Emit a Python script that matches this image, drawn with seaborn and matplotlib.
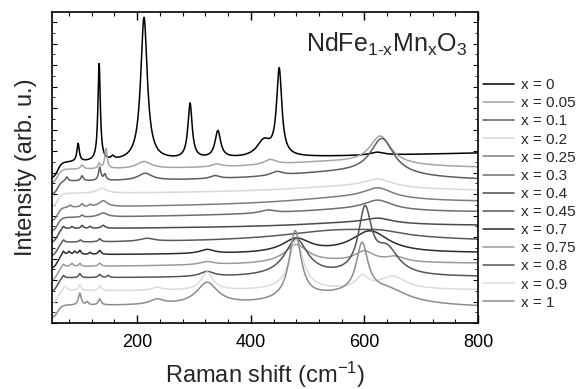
import numpy as np
import pandas as pd
import matplotlib
matplotlib.use("Agg")
import matplotlib.pyplot as plt
import seaborn as sns
from matplotlib.ticker import MultipleLocator

# ---------------- data ----------------
labels = ["x = 0", "x = 0.05", "x = 0.1", "x = 0.2", "x = 0.25", "x = 0.3", "x = 0.4",
          "x = 0.45", "x = 0.7", "x = 0.75", "x = 0.8", "x = 0.9", "x = 1"]

# baseline level (offset, arb. u.) at the low / high ends of the range
base_low = [160, 153, 141, 129, 115, 105, 94, 80, 68, 56, 45, 32, 17]
base_high = [170, 154, 141, 131, 120, 110, 97, 81, 70, 59, 46, 33, 15]
# drop of the signal below the notch-filter cut-off
edge_drop = [16, 14, 14, 14, 14, 14, 14, 14, 14, 14, 14, 14, 13]

# Raman bands: (position cm-1, height, FWHM cm-1)
bands_x0 = [(96, 18, 5), (133, 97, 5), (157, 3, 6), (212, 143, 14), (293, 55, 9),
            (342, 27, 12), (423, 16, 30), (450, 86, 11), (622, 3, 30)]
bands_x005 = [(103, 4, 6), (133, 5, 5), (145, 20, 5), (212, 7, 30), (340, 3, 20),
              (434, 5, 25), (540, 7, 300), (628, 28, 45)]
bands_x01 = [(76, 4, 5), (103, 5, 5), (134, 13, 5), (143, 6, 5), (214, 7, 30),
             (337, 3, 20), (446, 4, 25), (560, 9, 320), (631, 36, 50)]
bands_x02 = [(138, 5, 20), (580, 6, 300), (624, 8, 60)]
bands_x025 = [(82, 2, 5), (103, 3, 5), (117, 2, 5), (140, 6, 18), (580, 7, 280), (624, 10, 60)]
bands_x03 = [(103, 2, 5), (140, 4, 18), (430, 3, 30), (580, 5, 280), (624, 9.5, 60)]
bands_x04 = [(70, 3, 5), (85, 2, 5), (103, 3, 5), (117, 2, 5), (140, 3, 8),
             (580, 4, 250), (624, 5, 60)]
bands_x045 = [(70, 3, 5), (100, 2, 5), (134, 3, 6), (217, 3, 30), (560, 12, 260), (630, 3, 80)]
bands_x07 = [(70, 4, 5), (80, 3, 5), (90, 3, 5), (99, 4, 5), (117, 2, 5), (134, 4, 6),
             (323, 4, 30), (480, 14, 60), (610, 22, 80)]
bands_x075 = [(70, 3, 5), (85, 3, 5), (99, 3, 5), (134, 3, 6), (323, 3, 30),
              (480, 18, 50), (560, 3, 300), (600, 10, 40), (655, 5, 40)]
bands_x08 = [(70, 3, 5), (99, 4, 5), (134, 3, 6), (149, 2, 5), (323, 5, 30),
             (480, 37, 50), (601, 63, 28), (640, 25, 50)]
bands_x09 = [(73, 5, 8), (99, 6, 6), (134, 5, 6), (235, 3, 20), (323, 18, 25),
             (480, 50, 30), (596, 12, 25), (650, 13, 60)]
bands_x1 = [(99, 12, 6), (112, 3, 5), (134, 6, 6), (235, 5, 30), (323, 22, 45),
            (478, 68, 25), (550, 10, 200), (596, 50, 25), (640, 12, 90)]
bands = [bands_x0, bands_x005, bands_x01, bands_x02, bands_x025, bands_x03, bands_x04,
         bands_x045, bands_x07, bands_x075, bands_x08, bands_x09, bands_x1]

colors = ["#000000", "#a5a5a5", "#5e5e5e", "#d8d8d8", "#7d7d7d", "#6e6e6e", "#4a4a4a",
          "#5a5a5a", "#2c2c2c", "#9b9b9b", "#555555", "#dcdcdc", "#8c8c8c"]

x_min, x_max = 50, 800
shift = np.arange(x_min, x_max + 0.5, 0.5)


def spectrum(b_lo, b_hi, drop, band_list):
    y = b_lo + (b_hi - b_lo) * (shift - x_min) / (x_max - x_min)
    for c, h, w in band_list:
        y = y + h / (1.0 + ((shift - c) / (w / 2.0)) ** 2)
    y = y - drop / (1.0 + np.exp((shift - 60.0) / 3.5))
    return y


frames = []
for lab, bl, bh, dr, bd in zip(labels, base_low, base_high, edge_drop, bands):
    frames.append(pd.DataFrame({"shift": shift,
                                "intensity": spectrum(bl, bh, dr, bd),
                                "label": lab}))
df = pd.concat(frames, ignore_index=True)

# ---------------- plotting ----------------
sns.set_theme(style="ticks")
plt.rcParams["font.family"] = ["Liberation Sans", "DejaVu Sans"]
plt.rcParams["mathtext.fontset"] = "custom"
plt.rcParams["mathtext.rm"] = "Liberation Sans"
plt.rcParams["mathtext.it"] = "Liberation Sans:italic"
plt.rcParams["mathtext.default"] = "regular"

fig = plt.figure(figsize=(5.76, 3.89), dpi=100)
ax = fig.add_axes([52 / 576, 1 - 323 / 389, 426 / 576, 311 / 389])

sns.lineplot(data=df, x="shift", y="intensity", hue="label", hue_order=labels,
             palette=dict(zip(labels, colors)), estimator=None, sort=False,
             linewidth=1.1, ax=ax)

ax.set_xlim(x_min, x_max)
ax.set_ylim(0, 311)
ax.xaxis.set_major_locator(MultipleLocator(200))
ax.xaxis.set_minor_locator(MultipleLocator(40))
ax.yaxis.set_major_locator(MultipleLocator(21.5))
ax.yaxis.set_minor_locator(MultipleLocator(10.75))
ax.tick_params(which="both", direction="in", top=True, right=True,
               colors="black", labelleft=False)
ax.tick_params(axis="x", which="major", length=6, width=1.0, labelsize=13, pad=8)
ax.tick_params(axis="x", which="minor", length=3, width=0.8)
ax.tick_params(axis="y", which="major", length=3.5, width=0.8)
ax.tick_params(axis="y", which="minor", length=2, width=0.6)
for s in ax.spines.values():
    s.set_color("black")
    s.set_linewidth(1.2)

ax.set_xlabel("Raman shift (cm$^{-1}$)", fontsize=17, labelpad=6)
ax.set_ylabel("Intensity (arb. u.)", fontsize=17, labelpad=11)

ax.text(0.975, 0.871, "NdFe$_{1\u2010x}$Mn$_x$O$_3$", transform=ax.transAxes,
        ha="right", va="baseline", fontsize=18)

handles, labs = ax.get_legend_handles_labels()
ax.legend(handles, labs, loc="upper left", bbox_to_anchor=(1.012, 0.787),
          frameon=False, fontsize=11, handlelength=2.0, handletextpad=0.5,
          labelspacing=0.27, borderpad=0, borderaxespad=0)

fig.savefig("out.png", dpi=100)
